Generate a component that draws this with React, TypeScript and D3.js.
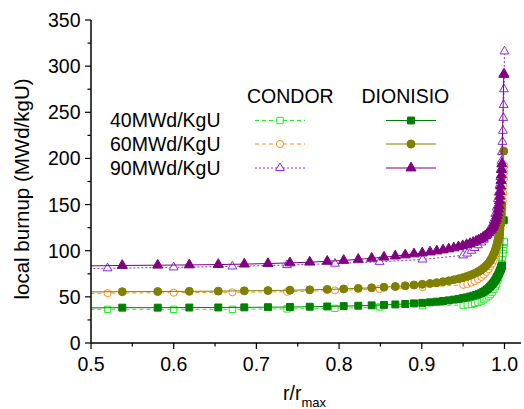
import React from "react";
import * as d3 from "d3";

const X_TICKS = [0.5, 0.6, 0.7, 0.8, 0.9, 1.0];
const X_MINOR = [0.55, 0.65, 0.75, 0.85, 0.95];
const Y_TICKS = [0, 50, 100, 150, 200, 250, 300, 350];
const Y_MINOR = [25, 75, 125, 175, 225, 275, 325];

const CONDOR_R = [0.44, 0.52, 0.60, 0.671, 0.737, 0.795, 0.849, 0.901, 0.950, 0.955, 0.960, 0.964, 0.968, 0.972, 0.975, 0.978, 0.981, 0.983, 0.985, 0.987, 0.989, 0.9905, 0.992, 0.993, 0.994, 0.995, 0.9957, 0.9964, 0.9970, 0.9976, 0.9981, 0.9986, 0.9990, 0.9994, 0.9997, 1.0];
const CONDOR_40 = [36, 36.5, 36.5, 36.5, 37, 37.5, 39, 40.5, 41, 41.5, 42, 43, 44, 45.5, 47, 49, 51, 53, 55, 58, 61, 64, 68, 71, 75, 79, 82, 86, 89, 93, 97, 101, 104, 107, 109, 110];
const CONDOR_60 = [53, 54, 54.5, 55, 55.5, 57, 58.5, 60.5, 63, 64, 65.5, 67, 69, 71.5, 74, 77, 80, 83, 86, 90, 95, 100, 106, 111, 117, 123, 128, 134, 140, 147, 154, 162, 170, 178, 185, 192];
const CONDOR_90 = [80, 81, 82, 83, 84.5, 86, 88, 90.5, 95, 97, 100, 103, 106, 109, 112, 116, 120, 124, 128, 133, 140, 147, 156, 163, 171, 180, 188, 197, 207, 218, 230, 244, 258, 275, 292, 316];

const DION_R = [0.491, 0.5378, 0.5807, 0.6189, 0.6539, 0.6854, 0.714, 0.7406, 0.7645, 0.7857, 0.8056, 0.8232, 0.8394, 0.8543, 0.868, 0.88, 0.8906, 0.9006, 0.91, 0.9182, 0.9257, 0.9326, 0.9388, 0.9444, 0.9495, 0.9542, 0.9584, 0.9622, 0.9657, 0.9688, 0.9717, 0.9743, 0.9767, 0.9788, 0.9808, 0.9825, 0.9841, 0.9856, 0.9869, 0.9881, 0.9892, 0.9902, 0.9911, 0.9919, 0.9927, 0.9933, 0.994, 0.9945, 0.995, 0.9955, 0.9959, 0.9963, 0.9966, 0.9969, 0.9992];
const DION_40 = [38, 38.3, 38.3, 38.4, 38.5, 38.6, 38.8, 39, 39.3, 39.6, 40, 40.4, 40.8, 41.3, 41.8, 42.3, 42.9, 43.5, 44.1, 44.8, 45.5, 46.2, 47, 47.8, 48.6, 49.4, 50.3, 51.2, 52.1, 53, 54, 55.3, 56.7, 58, 59.5, 61, 62.5, 64, 65.5, 67, 68.5, 70, 71.5, 73, 74.5, 75.7, 77, 78, 79, 80, 81, 82, 83, 84, 133];
const DION_60 = [55.3, 55.6, 55.8, 56, 56.2, 56.5, 56.8, 57.2, 57.6, 58.1, 58.6, 59.2, 59.8, 60.5, 61.2, 62, 62.8, 63.6, 64.5, 65.4, 66.4, 67.4, 68.5, 69.6, 70.8, 72, 73.3, 74.7, 76.1, 77.6, 79.2, 80.9, 82.7, 84.6, 86.6, 88.7, 91, 93.4, 96, 98.7, 101.5, 104.5, 107.6, 110.8, 114, 117, 120.5, 124, 127.5, 131, 135, 140, 145, 150, 208];
const DION_90 = [83.5, 84, 84.3, 84.6, 85, 85.5, 86.1, 86.8, 87.6, 88.5, 89.5, 90.6, 91.8, 93, 94.2, 95.4, 96.5, 97.5, 98.6, 99.7, 100.8, 101.9, 103, 104.2, 105.4, 106.6, 107.8, 109, 110.3, 111.6, 113, 114.5, 116, 117.7, 119.4, 121.2, 123.2, 125.3, 127.5, 130, 132.5, 135, 138, 141, 145, 149, 154, 159, 164, 170, 176, 182, 188, 194, 291];

const LEGEND_LABELS = ["40MWd/KgU", "60MWd/KgU", "90MWd/KgU"];

const FONT = "'Liberation Sans', Arial, Helvetica, sans-serif";

type Series = {
  xs: number[];
  ys: number[];
  color: string;
  symbol: d3.SymbolType;
  size: number;
  filled: boolean;
  dash: string | null;
};

const SERIES_CONDOR: Series[] = [
  { xs: CONDOR_R, ys: CONDOR_40, color: "#22ee22", symbol: d3.symbolSquare, size: 40, filled: false, dash: "4,3" },
  { xs: CONDOR_R, ys: CONDOR_60, color: "#ff8c1a", symbol: d3.symbolCircle, size: 40, filled: false, dash: "4,3" },
  { xs: CONDOR_R, ys: CONDOR_90, color: "#8a2be2", symbol: d3.symbolTriangle, size: 34, filled: false, dash: "2,2" },
];
const SERIES_DION: Series[] = [
  { xs: DION_R, ys: DION_40, color: "#008000", symbol: d3.symbolSquare, size: 48, filled: true, dash: null },
  { xs: DION_R, ys: DION_60, color: "#808000", symbol: d3.symbolCircle, size: 50, filled: true, dash: null },
  { xs: DION_R, ys: DION_90, color: "#800080", symbol: d3.symbolTriangle, size: 44, filled: true, dash: null },
];

const W = 524;
const H = 409;
const X0 = 91;
const X1 = 521;
const Y0 = 343;
const Y1 = 20;

export default function App() {
  const x = d3.scaleLinear().domain([0.5, 1.02]).range([X0, X1]);
  const y = d3.scaleLinear().domain([0, 350]).range([Y0, Y1]);

  const renderSeries = (s: Series, key: string) => {
    const pts: [number, number][] = s.xs.map((v, i) => [x(v), y(s.ys[i])]);
    const line = d3.line<[number, number]>().x((d) => d[0]).y((d) => d[1]);
    const sym = d3.symbol().type(s.symbol).size(s.size)();
    return (
      <g key={key}>
        <path
          d={line(pts) || ""}
          fill="none"
          stroke={s.color}
          strokeWidth={1}
          strokeDasharray={s.dash || undefined}
        />
        {pts.map((p, i) => (
          <path
            key={i}
            d={sym || ""}
            transform={`translate(${p[0]},${p[1]})`}
            fill={s.filled ? s.color : "#ffffff"}
            stroke={s.color}
            strokeWidth={1}
          />
        ))}
      </g>
    );
  };

  const legendRowsY = [120.5, 144, 168];
  const renderLegendSample = (s: Series, cx: number, cy: number, key: string) => {
    const sym = d3.symbol().type(s.symbol).size(s.size)();
    return (
      <g key={key}>
        <line x1={cx - 25} x2={cx + 25} y1={cy} y2={cy} stroke={s.color} strokeWidth={1} strokeDasharray={s.dash || undefined} />
        <path d={sym || ""} transform={`translate(${cx},${cy})`} fill={s.filled ? s.color : "#ffffff"} stroke={s.color} strokeWidth={1} />
      </g>
    );
  };

  return (
    <svg
      width={W}
      height={H}
      style={{ position: "absolute", left: 0, top: 0, display: "block", background: "#ffffff" }}
      fontFamily={FONT}
    >
      <defs>
        <clipPath id="plotclip">
          <rect x={X0} y={Y1 - 5} width={X1 - X0 + 3} height={Y0 - Y1 + 5} />
        </clipPath>
      </defs>
      <rect x={0} y={0} width={W} height={H} fill="#ffffff" />

      <g clipPath="url(#plotclip)">
        {SERIES_CONDOR.map((s, i) => renderSeries(s, "c" + i))}
        {SERIES_DION.map((s, i) => renderSeries(s, "d" + i))}
      </g>

      {/* axes */}
      <line x1={X0} x2={X0} y1={Y1} y2={Y0} stroke="#000" strokeWidth={1.5} />
      <line x1={X0} x2={X1} y1={Y0} y2={Y0} stroke="#000" strokeWidth={1.5} />
      {X_TICKS.map((t) => (
        <g key={"xt" + t}>
          <line x1={x(t)} x2={x(t)} y1={Y0} y2={Y0 + 6} stroke="#000" strokeWidth={1.2} />
          <text x={x(t)} y={371} textAnchor="middle" fontSize={19.5} fill="#000">
            {t.toFixed(1)}
          </text>
        </g>
      ))}
      {X_MINOR.map((t) => (
        <line key={"xm" + t} x1={x(t)} x2={x(t)} y1={Y0} y2={Y0 + 3.5} stroke="#000" strokeWidth={1.2} />
      ))}
      {Y_TICKS.map((t) => (
        <g key={"yt" + t}>
          <line x1={X0 - 6} x2={X0} y1={y(t)} y2={y(t)} stroke="#000" strokeWidth={1.2} />
          <text x={80.5} y={y(t) + 7} textAnchor="end" fontSize={19.5} fill="#000">
            {t}
          </text>
        </g>
      ))}
      {Y_MINOR.map((t) => (
        <line key={"ym" + t} x1={X0 - 3.5} x2={X0} y1={y(t)} y2={y(t)} stroke="#000" strokeWidth={1.2} />
      ))}

      {/* axis titles */}
      <text transform="translate(28.5,189) rotate(-90)" textAnchor="middle" fontSize={20.5} fill="#000">
        local burnup (MWd/kgU)
      </text>
      <text x={283} y={400} fontSize={19.5} fill="#000">
        r/r<tspan dy={7} fontSize={13}>max</tspan>
      </text>

      {/* legend */}
      <text x={247} y={102.7} fontSize={19.5} fill="#000">CONDOR</text>
      <text x={361.5} y={102.7} fontSize={19.5} fill="#000">DIONISIO</text>
      {LEGEND_LABELS.map((l, i) => (
        <text key={l} x={110} y={legendRowsY[i] + 6.5} fontSize={19.5} fill="#000">
          {l}
        </text>
      ))}
      {SERIES_CONDOR.map((s, i) => renderLegendSample(s, 280, legendRowsY[i], "lc" + i))}
      {SERIES_DION.map((s, i) => renderLegendSample(s, 411, legendRowsY[i], "ld" + i))}
    </svg>
  );
}
